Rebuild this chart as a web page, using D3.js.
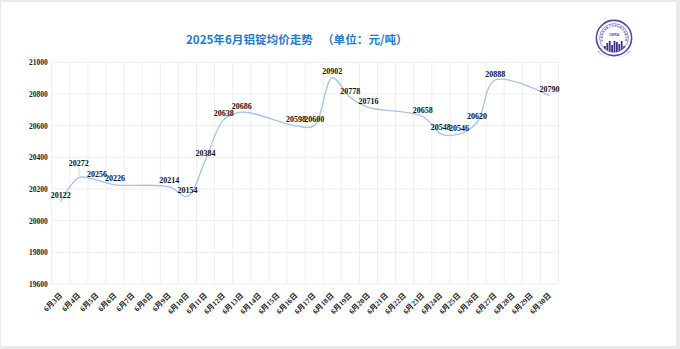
<!DOCTYPE html>
<html>
<head>
<meta charset="utf-8">
<script src="https://cdn.jsdelivr.net/npm/d3@7/dist/d3.min.js"></script>
<style>
  html, body { margin: 0; padding: 0; background: #fff; }
  svg { display: block; }
</style>
</head>
<body>
<svg id="chart" width="680" height="349"></svg>
<script>
// June 2025 aluminium ingot average price (yuan / tonne); weekends have no quote
const dates = ["6月3日","6月4日","6月5日","6月6日","6月7日","6月8日","6月9日","6月10日",
  "6月11日","6月12日","6月13日","6月14日","6月15日","6月16日","6月17日","6月18日",
  "6月19日","6月20日","6月21日","6月22日","6月23日","6月24日","6月25日","6月26日",
  "6月27日","6月28日","6月29日","6月30日"];
const prices = [20122, 20272, 20256, 20226, null, null, 20214, 20154,
  20384, 20638, 20686, null, null, 20598, 20600, 20902,
  20778, 20716, null, null, 20658, 20548, 20546, 20620,
  20888, null, null, 20790];
const yTicks = [19600, 19800, 20000, 20200, 20400, 20600, 20800, 21000];
const titleMain = "2025年6月铝锭均价走势";
const titleUnit = "（单位：元/吨）";
const emblemRing = "中国有色金属工业协会再生金属分会";
const emblemName = "CMRA";

// labels lifted clear of the curve, with a leader line
const raisedLabels = ["6月4日"];

const svg = d3.select("#chart");
const W = 680, H = 349;
const plot = { left: 51.7, right: 558.5, top: 62.3, bottom: 284 };
const serif = "'Times New Roman', 'Liberation Serif', 'Noto Sans CJK SC', serif";

// page frame
svg.append("rect").attr("width", W).attr("height", H).attr("fill", "#e9e9e9");
svg.append("rect").attr("x", 1).attr("y", 2).attr("width", W - 5).attr("height", H - 5)
  .attr("fill", "#ffffff");

const x = d3.scaleBand().domain(dates).range([plot.left, plot.right]).padding(0);
const y = d3.scaleLinear().domain([19600, 21000]).range([plot.bottom, plot.top]);
const cx = d => x(d) + x.bandwidth() / 2;

// grid
const grid = svg.append("g").attr("stroke", "#eeeeee").attr("stroke-width", 1);
grid.selectAll("line.h").data(yTicks).join("line").attr("class", "h")
  .attr("x1", plot.left).attr("x2", plot.right)
  .attr("y1", d => y(d)).attr("y2", d => y(d));
const edges = dates.map(d => x(d)).concat([plot.right]);
grid.selectAll("line.v").data(edges).join("line").attr("class", "v")
  .attr("x1", d => d).attr("x2", d => d)
  .attr("y1", plot.top).attr("y2", plot.bottom);

// y axis labels
const yAxis = d3.axisLeft(y).tickValues(yTicks).tickSize(0).tickPadding(4)
  .tickFormat(d3.format("d"));
svg.append("g").attr("transform", `translate(${plot.left},0)`).call(yAxis)
  .call(g => g.select(".domain").remove())
  .call(g => g.selectAll("text").attr("font-family", serif).attr("font-weight", "bold")
    .attr("font-size", 7.5).attr("fill", "#222"));

// x axis labels, rotated
svg.append("g").selectAll("text").data(dates).join("text")
  .attr("transform", d => `translate(${cx(d) + 2},${plot.bottom + 12}) rotate(-45)`)
  .attr("text-anchor", "end")
  .attr("font-family", serif).attr("font-weight", "bold")
  .attr("font-size", 7.5).attr("fill", "#222")
  .text(d => d);

// price line: smooth curve through quoted days only
const pts = dates.map((d, i) => ({ d, v: prices[i] })).filter(p => p.v !== null);
const line = d3.line().x(p => cx(p.d)).y(p => y(p.v)).curve(d3.curveCatmullRom.alpha(0.5));
svg.append("path").datum(pts).attr("d", line)
  .attr("fill", "none").attr("stroke", "#a7c3e6").attr("stroke-width", 1.3);

// value labels
const lbl = svg.append("g");
pts.forEach(p => {
  const raised = raisedLabels.includes(p.d);
  const by = y(p.v) - (raised ? 12 : 3.5);
  if (raised) {
    lbl.append("line").attr("x1", cx(p.d) + 0.5).attr("x2", cx(p.d))
      .attr("y1", by + 2).attr("y2", y(p.v) - 1)
      .attr("stroke", "#bbbbbb").attr("stroke-width", 0.6);
  }
  lbl.append("text").attr("x", cx(p.d)).attr("y", by)
    .attr("text-anchor", "middle")
    .attr("font-family", serif).attr("font-weight", "bold")
    .attr("font-size", 8).attr("fill", "#111")
    .text(p.v);
});

// title
const title = svg.append("text").attr("y", 44)
  .attr("font-family", "'Noto Sans CJK SC', sans-serif").attr("font-weight", "bold")
  .attr("font-size", 11.6).attr("fill", "#1f7bc8");
title.append("tspan").attr("x", 186).text(titleMain);
title.append("tspan").attr("x", 322).text(titleUnit);

// association emblem
const logo = svg.append("g").attr("transform", "translate(614,38)");
const defs = svg.append("defs");
defs.append("clipPath").attr("id", "innerClip").append("circle").attr("r", 14.2);
const refl = defs.append("linearGradient").attr("id", "reflGrad")
  .attr("x1", 0).attr("y1", 0).attr("x2", 0).attr("y2", 1);
refl.append("stop").attr("offset", "0%").attr("stop-color", "#6a5fae").attr("stop-opacity", 0.5);
refl.append("stop").attr("offset", "100%").attr("stop-color", "#6a5fae").attr("stop-opacity", 0);
// faint mirrored rim under the badge
logo.append("path").attr("d", d3.arc()({ innerRadius: 16.5, outerRadius: 18.5,
  startAngle: Math.PI * 0.62, endAngle: Math.PI * 1.38 }))
  .attr("transform", "translate(0,9) scale(1,0.6)").attr("fill", "url(#reflGrad)");
logo.append("circle").attr("r", 17.6).attr("fill", "#fff")
  .attr("stroke", "#55489c").attr("stroke-width", 1.6);
logo.append("circle").attr("r", 14.4).attr("fill", "none")
  .attr("stroke", "#55489c").attr("stroke-width", 0.6);
// ring lettering, one glyph per position along the upper arc
const ringChars = Array.from(emblemRing);
const ringAngle = d3.scaleLinear().domain([0, ringChars.length - 1]).range([-100, 100]);
logo.append("g").selectAll("text").data(ringChars).join("text")
  .attr("transform", (c, i) => `rotate(${ringAngle(i)}) translate(0,-11.4)`)
  .attr("text-anchor", "middle")
  .attr("font-family", "'Noto Sans CJK SC', sans-serif").attr("font-weight", "bold")
  .attr("font-size", 2.4).attr("fill", "#55489c")
  .text(c => c);
logo.append("text").attr("y", -1.8).attr("text-anchor", "middle")
  .attr("font-family", "Arial, 'Liberation Sans', sans-serif").attr("font-weight", "bold")
  .attr("font-size", 3.4).attr("fill", "#55489c").text(emblemName);
const towers = [[-10, 6], [-7.6, 9], [-5.2, 11], [-2.8, 7], [-0.4, 13], [2, 10], [4.4, 8], [6.8, 11], [9.2, 6]];
logo.append("g").attr("clip-path", "url(#innerClip)").selectAll("rect").data(towers).join("rect")
  .attr("x", d => d[0]).attr("y", d => 14 - Math.min(d[1], 11)).attr("width", 1.8)
  .attr("height", d => Math.min(d[1], 11))
  .attr("fill", "#3c3391");
</script>
</body>
</html>
